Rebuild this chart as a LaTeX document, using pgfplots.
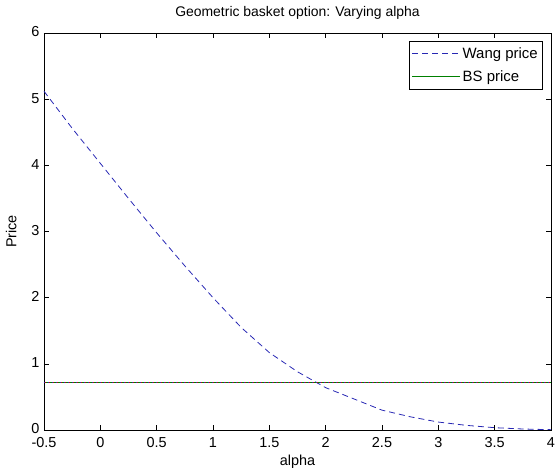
\documentclass[border=0pt]{standalone}
\usepackage{pgfplots}
\pgfplotsset{compat=1.18}
\usepackage{fontspec}
\setmainfont{Liberation Sans}
\definecolor{wang}{RGB}{40,40,180}
\definecolor{bsgreen}{RGB}{0,128,0}
\begin{document}
\begin{tikzpicture}
\path[use as bounding box] (-44bp,-43bp) rectangle (511bp,430bp);
\begin{axis}[
  scale only axis,
  width=507bp, height=397bp,
  at={(0,0)}, anchor=south west,
  xmin=-0.5, xmax=4, ymin=0, ymax=6,
  xtick={-0.5,0,0.5,1,1.5,2,2.5,3,3.5,4},
  xticklabels={-0.5,0,0.5,1,1.5,2,2.5,3,3.5,4},
  ytick={0,1,2,3,4,5,6},
  tick align=inside,
  major tick length=5bp,
  tick style={black, line width=0.6pt},
  axis line style={black, line width=0.6pt},
  /pgf/number format/assume math mode=true,
  ticklabel style={font=\fontsize{14.5}{16}\selectfont},
  xticklabel style={yshift=-4bp},
  yticklabel style={xshift=-1bp, yshift=1bp},
  label style={font=\fontsize{14.5}{16}\selectfont},
  title style={font=\fontsize{14}{16}\selectfont, yshift=4bp},
  title={Geometric basket option: Varying alpha},
  xlabel={alpha}, ylabel={Price},
  xlabel style={yshift=0bp},
  ylabel style={yshift=8bp},
  legend style={at={(1,1)}, anchor=north east, xshift=-8bp, yshift=-8bp,
    draw=black, line width=0.6pt, font=\fontsize{15}{17}\selectfont,
    inner xsep=3bp, inner ysep=4bp, row sep=7bp},
  legend cell align=left,
  legend image code/.code={\draw[#1] (0bp,0bp) -- (48bp,0bp);},
]
\addplot[wang, line width=0.8pt, dash pattern=on 6bp off 4bp] coordinates {
(-0.5,5.12) (-0.25,4.56) (0,4.03) (0.25,3.50) (0.5,2.98) (0.75,2.48)
(1.0,2.00) (1.25,1.55) (1.5,1.17) (1.75,0.88) (2.0,0.64) (2.25,0.47)
(2.5,0.30) (2.75,0.20) (3.0,0.12) (3.25,0.07) (3.5,0.035) (3.75,0.015) (4.0,0.005)
};
\addlegendentry{Wang price}
\addplot[bsgreen, line width=0.6pt] coordinates {(-0.5,0.715) (4,0.715)};
\addlegendentry{BS price}
\addplot[red!80!black, line width=0.6pt, dash pattern=on 2bp off 2bp, forget plot] coordinates {(-0.5,0.715) (4,0.715)};
\addplot[wang, line width=0.4pt, dash pattern=on 1bp off 3bp, forget plot] coordinates {(-0.5,0.715) (4,0.715)};
\end{axis}
\end{tikzpicture}
\end{document}
